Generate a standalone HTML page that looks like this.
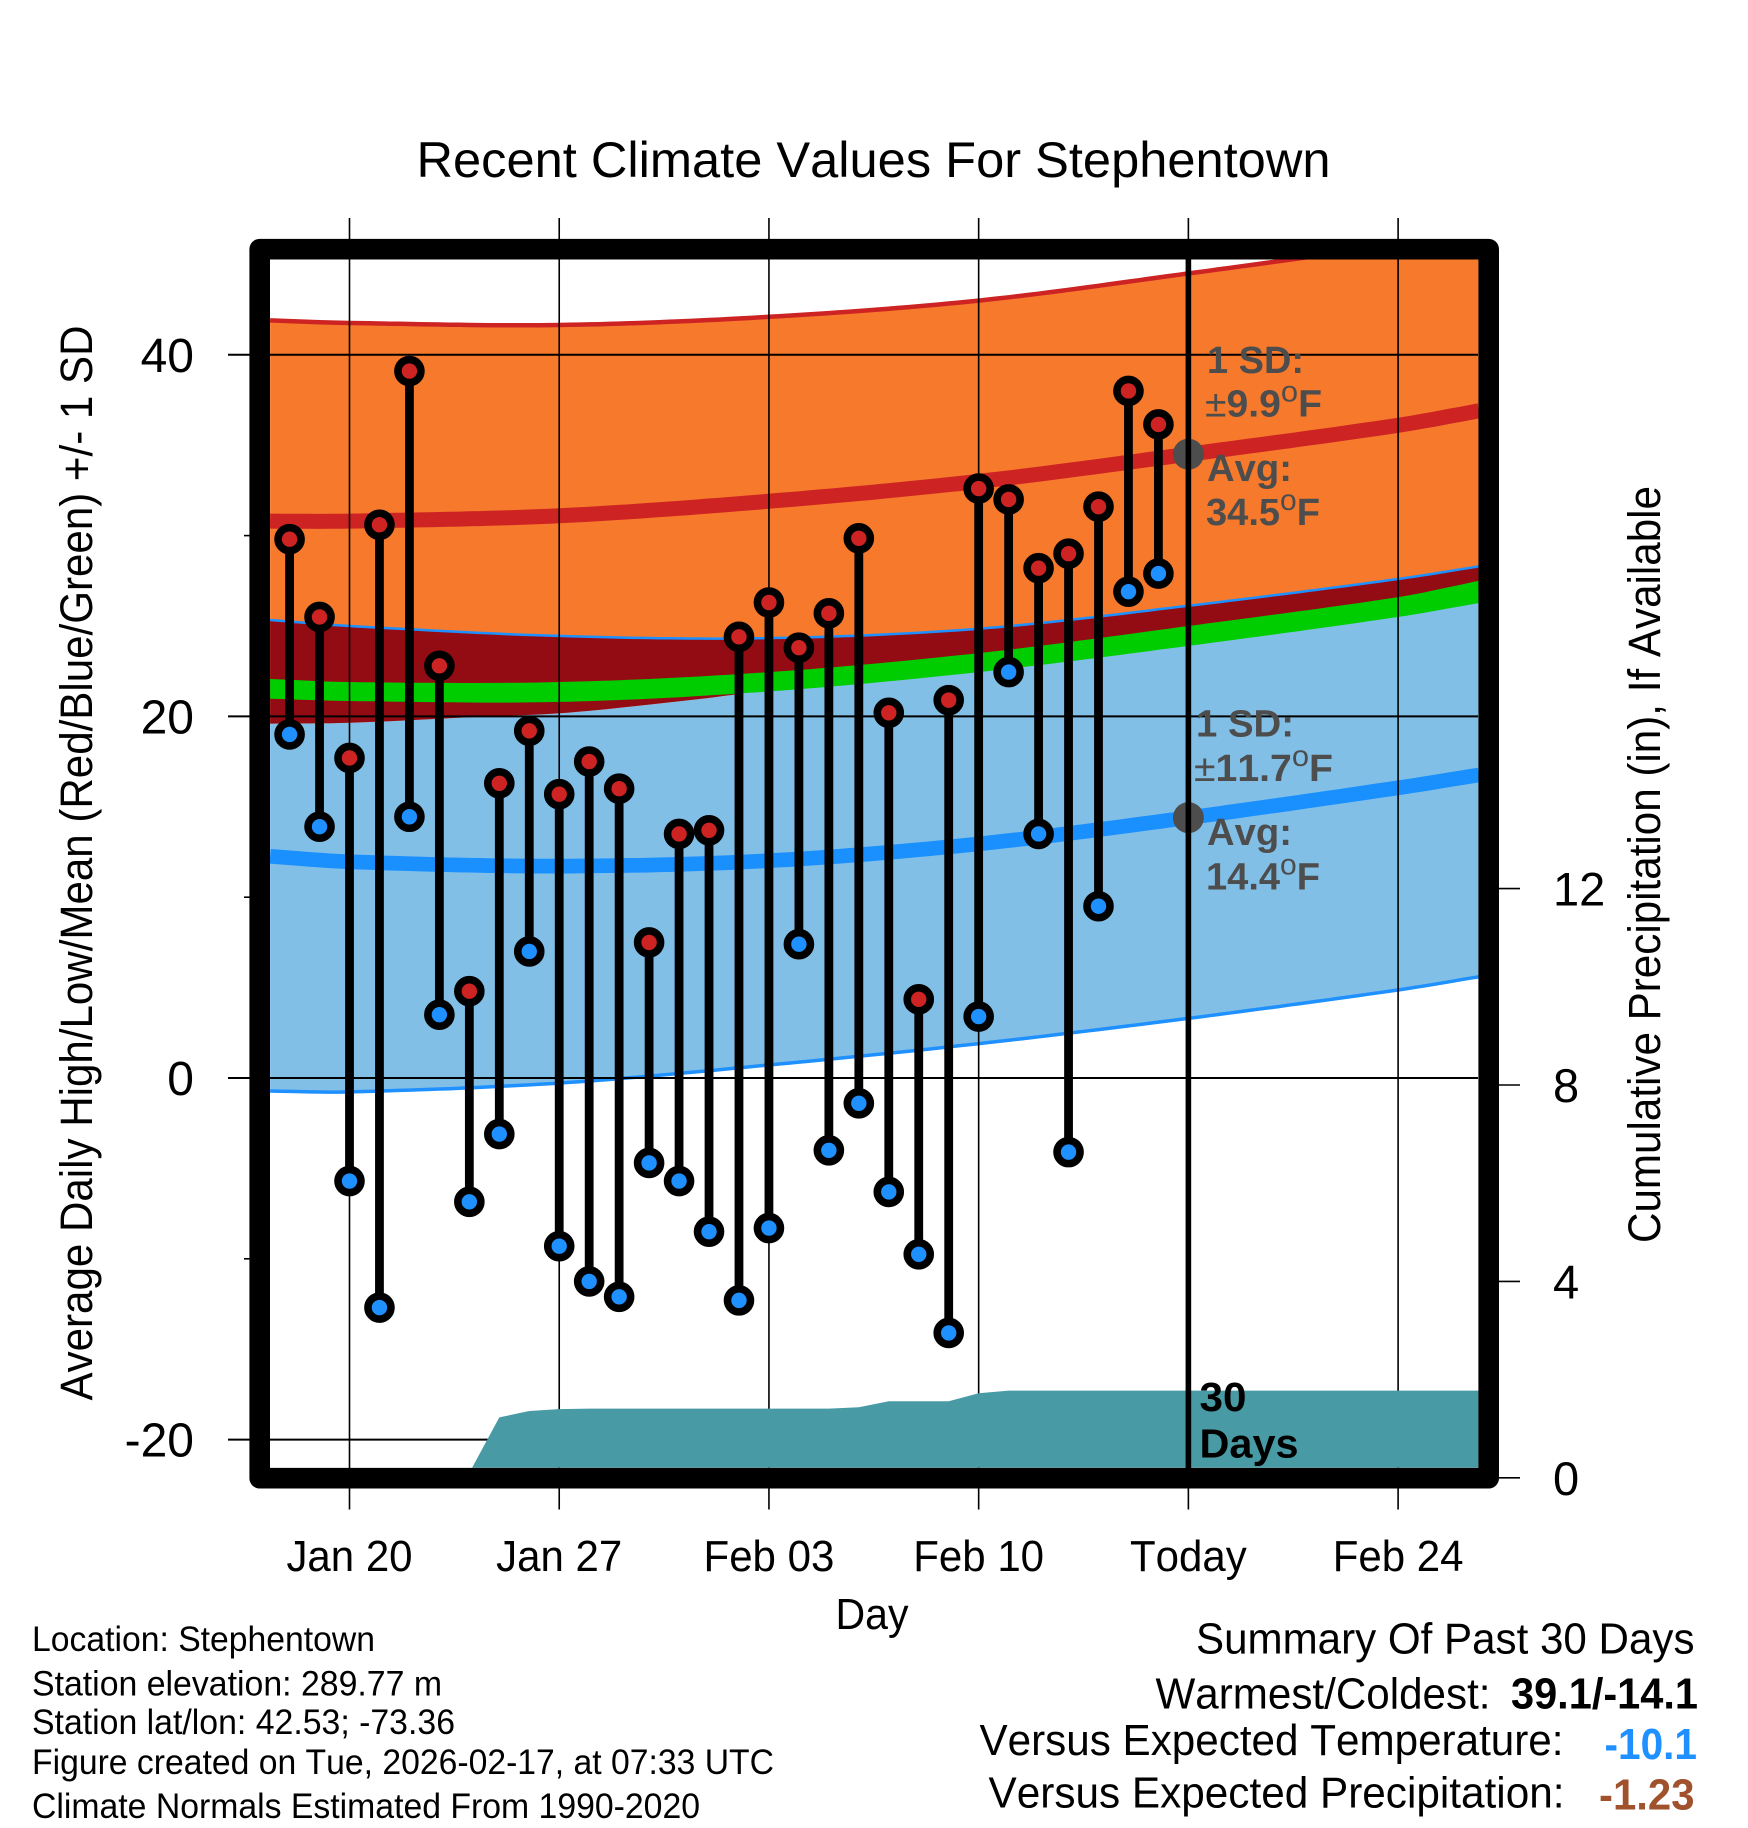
<!DOCTYPE html>
<html lang="en">
<head>
<meta charset="utf-8">
<title>Recent Climate Values For Stephentown</title>
<style>
html,body{margin:0;padding:0;background:#fff;width:1748px;height:1828px;overflow:hidden}
svg{display:block}
text{font-family:"Liberation Sans",Arial,sans-serif;fill:#000;font-kerning:none}
.b{font-weight:bold}
.g{font-weight:bold;fill:#4d4d4d;font-size:38px}
.g tspan{fill:#4d4d4d}
.d{font-weight:normal;font-size:30px}
.p{font-weight:normal}
.s{font-size:35px}
.r{font-size:44px}
</style>
</head>
<body>
<svg id="chart" xmlns="http://www.w3.org/2000/svg" width="1748" height="1828" viewBox="0 0 1748 1828">
<defs><clipPath id="plot-clip"><rect x="270" y="259.4" width="1208.4" height="1208.3"/></clipPath></defs>
<g id="bands" clip-path="url(#plot-clip)"></g>
<g id="grid"></g>
<g id="precip" clip-path="url(#plot-clip)"></g>
<g id="bars"></g>
<g id="today"></g>
<rect x="259.7" y="249.2" width="1229" height="1229" fill="none" stroke="#000" stroke-width="20.6" stroke-linejoin="round"/>
<g id="axes"></g>

<text x="873.5" y="177" font-size="50" text-anchor="middle" textLength="914" lengthAdjust="spacingAndGlyphs">Recent Climate Values For Stephentown</text>
<text transform="translate(92,863) rotate(-90)" font-size="45" text-anchor="middle" textLength="1075" lengthAdjust="spacingAndGlyphs">Average Daily High/Low/Mean (Red/Blue/Green) +/- 1 SD</text>
<text transform="translate(1659.8,864.5) rotate(-90)" font-size="45" text-anchor="middle" textLength="757" lengthAdjust="spacingAndGlyphs">Cumulative Precipitation (in), If Available</text>
<text x="872" y="1629" font-size="44" text-anchor="middle" textLength="73" lengthAdjust="spacingAndGlyphs">Day</text>

<text class="g" x="1207" y="373" textLength="97" lengthAdjust="spacingAndGlyphs">1 SD:</text>
<text class="g" x="1205" y="416.5" textLength="117" lengthAdjust="spacingAndGlyphs"><tspan class="p">±</tspan>9.9<tspan class="d" dy="-15">o</tspan><tspan dy="15">F</tspan></text>
<text class="g" x="1207" y="481" textLength="85" lengthAdjust="spacingAndGlyphs">Avg:</text>
<text class="g" x="1206" y="525" textLength="114" lengthAdjust="spacingAndGlyphs">34.5<tspan class="d" dy="-15">o</tspan><tspan dy="15">F</tspan></text>
<text class="g" x="1196" y="736.6" textLength="98" lengthAdjust="spacingAndGlyphs">1 SD:</text>
<text class="g" x="1194" y="781" textLength="139" lengthAdjust="spacingAndGlyphs"><tspan class="p">±</tspan>11.7<tspan class="d" dy="-15">o</tspan><tspan dy="15">F</tspan></text>
<text class="g" x="1207" y="845" textLength="85" lengthAdjust="spacingAndGlyphs">Avg:</text>
<text class="g" x="1206" y="889.7" textLength="114" lengthAdjust="spacingAndGlyphs">14.4<tspan class="d" dy="-15">o</tspan><tspan dy="15">F</tspan></text>

<text class="b" x="1199.5" y="1411" font-size="41" textLength="47" lengthAdjust="spacingAndGlyphs">30</text>
<text class="b" x="1199.5" y="1457.6" font-size="41" textLength="99" lengthAdjust="spacingAndGlyphs">Days</text>

<text class="s" x="32" y="1651" textLength="343" lengthAdjust="spacingAndGlyphs">Location: Stephentown</text>
<text class="s" x="32" y="1695.6" textLength="410" lengthAdjust="spacingAndGlyphs">Station elevation: 289.77 m</text>
<text class="s" x="32" y="1734" textLength="423" lengthAdjust="spacingAndGlyphs">Station lat/lon: 42.53; -73.36</text>
<text class="s" x="32" y="1774" textLength="742" lengthAdjust="spacingAndGlyphs">Figure created on Tue, 2026-02-17, at 07:33 UTC</text>
<text class="s" x="32" y="1818" textLength="668" lengthAdjust="spacingAndGlyphs">Climate Normals Estimated From 1990-2020</text>

<text class="r" x="1196" y="1653.5" textLength="498.5" lengthAdjust="spacingAndGlyphs">Summary Of Past 30 Days</text>
<text class="r" x="1155.5" y="1708.5" textLength="335" lengthAdjust="spacingAndGlyphs">Warmest/Coldest:</text>
<text class="r b" x="1511" y="1708.5" textLength="187" lengthAdjust="spacingAndGlyphs">39.1/-14.1</text>
<text class="r" x="979.5" y="1755" textLength="584" lengthAdjust="spacingAndGlyphs">Versus Expected Temperature:</text>
<text class="r b" x="1604.5" y="1759" textLength="92.5" lengthAdjust="spacingAndGlyphs" style="fill:#1e90ff">-10.1</text>
<text class="r" x="988.5" y="1807.5" textLength="576" lengthAdjust="spacingAndGlyphs">Versus Expected Precipitation:</text>
<text class="r b" x="1599" y="1809.5" textLength="95.5" lengthAdjust="spacingAndGlyphs" style="fill:#a0522d">-1.23</text>
</svg>

<script>
// ---- data (days are offsets from Jan 20; temperatures in F; precipitation in inches) ----
const dayStart = -2;
const highs = [29.8,25.5,17.7,30.6,39.1,22.8,4.8,16.3,19.2,15.7,17.5,16.0,7.5,13.5,13.7,24.4,26.3,23.8,25.7,29.85,20.2,4.35,20.9,32.6,32.0,28.2,29.0,31.6,38.0,36.15];
const lows = [19.0,13.9,-5.7,-12.7,14.45,3.5,-6.85,-3.1,7.0,-9.3,-11.25,-12.1,-4.7,-5.7,-8.5,-12.3,-8.3,7.4,-4.0,-1.4,-6.3,-9.75,-14.1,3.4,22.45,13.5,-4.1,9.5,26.9,27.9];
const precip = [0,0,0,0,0,0,0.1,1.23,1.36,1.40,1.41,1.41,1.41,1.41,1.41,1.41,1.41,1.41,1.41,1.435,1.56,1.56,1.56,1.72,1.775,1.775,1.775,1.775,1.775,1.775];
const normalDays = [-2.65,0,7,14,21,28,35,37.7];
const highAvg = [30.8,30.8,31.1,31.9,33.0,34.5,36.1,36.9];
const highUpper = [41.9,41.76,41.65,42.1,43.0,44.5,46.1,46.8];
const lowAvg = [12.26,11.96,11.72,12.02,12.95,14.4,16.05,16.76];
const lowUpper = [25.33,25.0,24.45,24.33,24.85,26.12,27.6,28.3];
const lowLower = [-0.72,-0.77,-0.28,0.72,1.9,3.3,4.87,5.6];
const greenUpper = [22.07,21.9,21.9,22.45,23.5,25.0,26.6,27.5];
const greenLower = [20.98,20.85,20.8,21.38,22.45,23.9,25.5,26.27];
const highLowerDays = [-2.65,0,4.6,7,10.1,12.8,14,21,28,35,37.7];
const highLower = [19.6,19.65,20.0,20.17,20.67,21.2,21.55,23.2,24.6,26.2,27.0];
const xTickDays = [0,7,14,21,28,35];
const xTickLabels = ["Jan 20","Jan 27","Feb 03","Feb 10","Today","Feb 24"];
const yTicks = [-20,0,20,40];
const yTickLabels = ["-20","0","20","40"];
const yMinorTicks = [-10,10,30];
const precipTicks = [0,4,8,12];
const precipTickLabels = ["0","4","8","12"];
const todayDay = 28;
const todayHighAvg = 34.5;
const todayLowAvg = 14.4;

// ---- axis functions ----
function xDay(d){return 349.5+29.96*d;}
function yTemp(v){return 1078-18.08*v;}
function yPrecip(p){return 1477.8-49.1*p;}

const NS='http://www.w3.org/2000/svg';
function mk(parent,tag,attrs){
  const el=document.createElementNS(NS,tag);
  for(const k in attrs){el.setAttribute(k,attrs[k]);}
  parent.appendChild(el);
  return el;
}
// smooth rendering of a curve through the given data points
function sample(days,vals){
  const n=days.length,out=[];
  const slope=i=>{
    if(i===0)return (vals[1]-vals[0])/(days[1]-days[0]);
    if(i===n-1)return (vals[n-1]-vals[n-2])/(days[n-1]-days[n-2]);
    return (vals[i+1]-vals[i-1])/(days[i+1]-days[i-1]);
  };
  for(let i=0;i<n-1;i++){
    const h=days[i+1]-days[i],m0=slope(i),m1=slope(i+1),steps=Math.max(2,Math.ceil(h*3));
    for(let s=0;s<steps;s++){
      const t=s/steps,t2=t*t,t3=t2*t;
      const v=(2*t3-3*t2+1)*vals[i]+(t3-2*t2+t)*h*m0+(-2*t3+3*t2)*vals[i+1]+(t3-t2)*h*m1;
      out.push([xDay(days[i]+t*h),yTemp(v)]);
    }
  }
  out.push([xDay(days[n-1]),yTemp(vals[n-1])]);
  return out;
}
function toPath(pts){return 'M'+pts.map(p=>p[0].toFixed(1)+' '+p[1].toFixed(1)).join('L');}
function area(uDays,u,lDays,l){return toPath(sample(uDays,u).concat(sample(lDays,l).reverse()))+'Z';}

// ---- bands ----
const bands=document.getElementById('bands');
const blueBand=mk(bands,'path',{d:area(normalDays,lowUpper,normalDays,lowLower),fill:'#82bfe7'});


const orangeBand=mk(bands,'path',{d:area(normalDays,highUpper,highLowerDays,highLower),fill:'#f6792c'});


const overlapBand=mk(bands,'path',{d:area(normalDays,lowUpper,highLowerDays,highLower),fill:'#930c13'});


const greenBand=mk(bands,'path',{d:area(normalDays,greenUpper,normalDays,greenLower),fill:'#00cd00'});


const highTop=mk(bands,'path',{d:toPath(sample(normalDays,highUpper)),fill:'none',stroke:'#cd2323','stroke-width':4.5});


const lowTop=mk(bands,'path',{d:toPath(sample(normalDays,lowUpper)),fill:'none',stroke:'#1e90ff','stroke-width':2.5});


const lowBottom=mk(bands,'path',{d:toPath(sample(normalDays,lowLower)),fill:'none',stroke:'#1e90ff','stroke-width':3.5});


const highLine=mk(bands,'path',{d:toPath(sample(normalDays,highAvg)),fill:'none',stroke:'#cd2323','stroke-width':15});


const lowLine=mk(bands,'path',{d:toPath(sample(normalDays,lowAvg)),fill:'none',stroke:'#1a90ff','stroke-width':14.7});



// ---- grid ----
const grid=document.getElementById('grid');
xTickDays.forEach(d=>{
  const l=mk(grid,'line',{x1:xDay(d),x2:xDay(d),y1:218,y2:1509.5,stroke:'#000','stroke-width':1.6});
  
  
});
yTicks.forEach(v=>{
  const l=mk(grid,'line',{x1:228,x2:1478,y1:yTemp(v),y2:yTemp(v),stroke:'#000','stroke-width':2});
  
  
});

// ---- precipitation ----
const precipGroup=document.getElementById('precip');
const precipPts=precip.map((p,i)=>[xDay(dayStart+i),yPrecip(p)]);
precipPts.push([xDay(normalDays[normalDays.length-1]),yPrecip(precip[precip.length-1])]);
const precipArea=mk(precipGroup,'path',{d:toPath(precipPts)+'L'+precipPts[precipPts.length-1][0]+' '+yPrecip(0)+'L'+precipPts[0][0]+' '+yPrecip(0)+'Z',fill:'#489aa5'});



// ---- daily bars ----
const bars=document.getElementById('bars');
highs.forEach((h,i)=>{
  const x=xDay(dayStart+i);
  const stem=mk(bars,'line',{x1:x,x2:x,y1:yTemp(h),y2:yTemp(lows[i]),stroke:'#000','stroke-width':8.8});
  
  
});
highs.forEach((h,i)=>{
  const x=xDay(dayStart+i);
  const lowDot=mk(bars,'circle',{cx:x,cy:yTemp(lows[i]),r:11.5,fill:'#1e90ff',stroke:'#000','stroke-width':7.6});
  
  
  const highDot=mk(bars,'circle',{cx:x,cy:yTemp(h),r:11.5,fill:'#cd2323',stroke:'#000','stroke-width':7.6});
  
  
});

// ---- today marker ----
const todayG=document.getElementById('today');
const dotHigh=mk(todayG,'circle',{cx:xDay(todayDay),cy:yTemp(todayHighAvg),r:15.5,fill:'#4d4d4d'});


const dotLow=mk(todayG,'circle',{cx:xDay(todayDay),cy:yTemp(todayLowAvg),r:15.5,fill:'#4d4d4d'});


const todayLine=mk(todayG,'line',{x1:xDay(todayDay),x2:xDay(todayDay),y1:255,y2:1470,stroke:'#000','stroke-width':5.6});



// ---- axes ----
const axes=document.getElementById('axes');
xTickLabels.forEach((t,i)=>{
  const el=mk(axes,'text',{x:xDay(xTickDays[i]),y:1571,'font-size':44,'text-anchor':'middle'});
  el.textContent=t;
  el.setAttribute('textLength',(el.getComputedTextLength()*42/44).toFixed(1));
  el.setAttribute('lengthAdjust','spacingAndGlyphs');
  
  
});
yTickLabels.forEach((t,i)=>{
  const el=mk(axes,'text',{x:194,y:yTemp(yTicks[i])+17,'font-size':48,'text-anchor':'end'});
  el.textContent=t;
  
  
});
yMinorTicks.forEach(v=>{
  const l=mk(axes,'line',{x1:244,x2:250,y1:yTemp(v),y2:yTemp(v),stroke:'#000','stroke-width':1.6});
  
  
});
precipTicks.forEach((p,i)=>{
  const l=mk(axes,'line',{x1:1499,x2:1520,y1:yPrecip(p),y2:yPrecip(p),stroke:'#000','stroke-width':1.6});
  
  
  const el=mk(axes,'text',{x:1553,y:yPrecip(p)+17,'font-size':47});
  el.textContent=precipTickLabels[i];
  
  
});
</script>
</body>
</html>
